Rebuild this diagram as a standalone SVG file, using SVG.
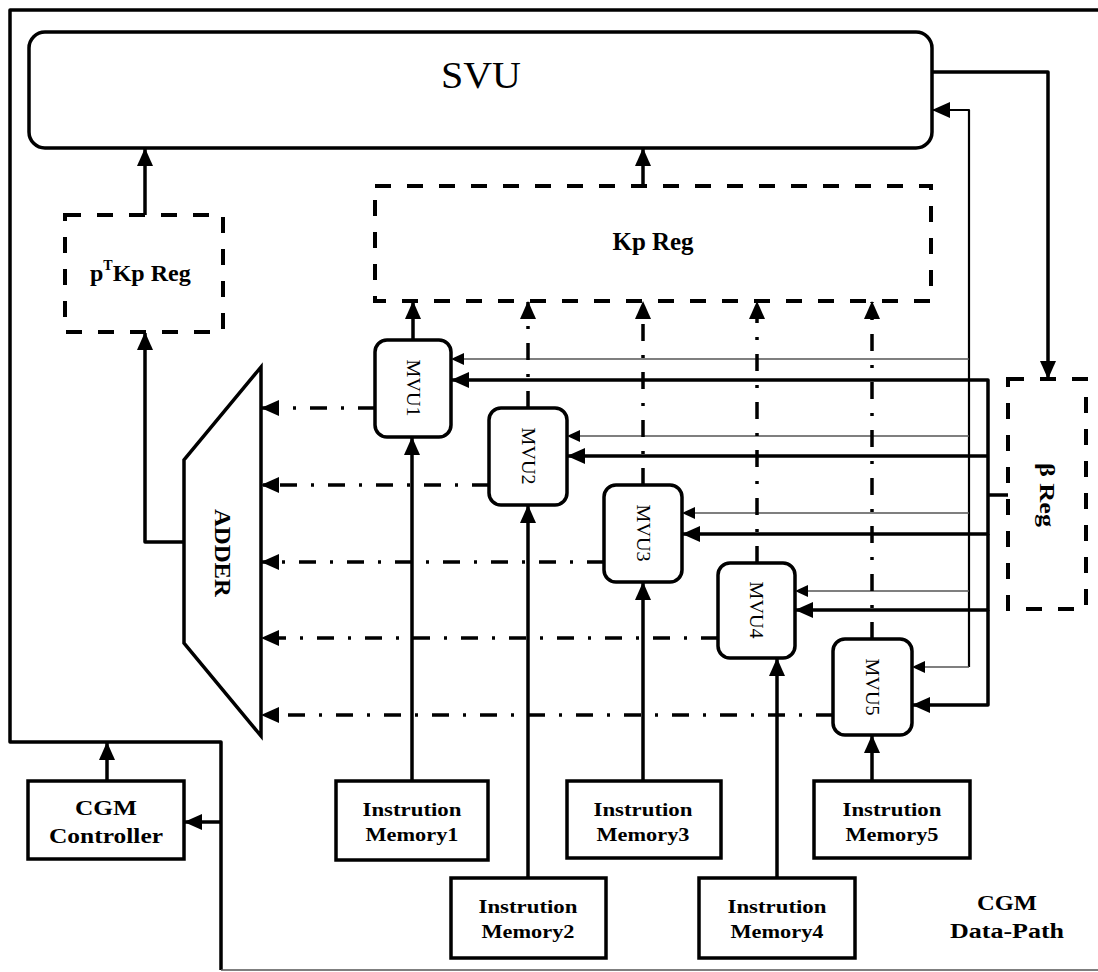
<svg xmlns="http://www.w3.org/2000/svg" width="1098" height="972" viewBox="0 0 1098 972">
<style>
.bx{fill:#fff;stroke:#000;stroke-width:3.5}
.dsh{fill:none;stroke:#000;stroke-width:4;stroke-dasharray:16 16}
.th{fill:none;stroke:#000;stroke-width:3.5;stroke-linejoin:round}
.md{fill:none;stroke:#000;stroke-width:2.2;stroke-linejoin:round}
.tn{fill:none;stroke:#555;stroke-width:1.6}
.dd{fill:none;stroke:#000;stroke-width:3.5;stroke-dasharray:17 14 3 14}
.serif{font-family:"Liberation Serif","Times New Roman",serif;fill:#000}
.b{font-weight:bold}
</style>
<defs>
<marker id="ah" markerUnits="userSpaceOnUse" markerWidth="18" markerHeight="16" refX="17" refY="8" orient="auto"><path d="M0,0 L18,8 L0,16 z" fill="#000"/></marker>
<marker id="ahs" markerUnits="userSpaceOnUse" markerWidth="13" markerHeight="12" refX="12" refY="6" orient="auto"><path d="M0,0 L13,6 L0,12 z" fill="#000"/></marker>
</defs>

<g id="frame">
<path class="th" d="M1098,10 H10 V742 H221 V970" stroke-width="3"/>
<path class="tn" d="M221,970 H1098" stroke="#000"/>
</g>

<g id="svu">
<rect class="bx" x="29" y="32" width="903" height="116" rx="16" stroke-width="3"/>
<text class="serif" x="481" y="88" font-size="38" text-anchor="middle" textLength="80" lengthAdjust="spacingAndGlyphs">SVU</text>
</g>

<g id="kpreg">
<rect class="dsh" x="375" y="186" width="556" height="115"/>
<text class="serif b" x="653" y="250" font-size="25" text-anchor="middle" textLength="81" lengthAdjust="spacingAndGlyphs">Kp Reg</text>
</g>

<g id="ptkpreg">
<rect class="dsh" x="65" y="215" width="158" height="117"/>
<text class="serif b" x="90" y="281" font-size="24">p<tspan dy="-11" font-size="14">T</tspan><tspan dy="11">Kp Reg</tspan></text>
</g>

<g id="breg">
<rect class="dsh" x="1008" y="379" width="78" height="230"/>
<text class="serif b" transform="translate(1047,495) rotate(90)" x="0" y="7" font-size="20" text-anchor="middle" textLength="64" lengthAdjust="spacingAndGlyphs">β Reg</text>
</g>

<g id="adder">
<polygon class="bx" points="261,367 261,736 184,643 184,460"/>
<text class="serif b" transform="translate(223,553) rotate(90)" x="0" y="8" font-size="24" text-anchor="middle" textLength="88" lengthAdjust="spacingAndGlyphs">ADDER</text>
</g>

<g id="mvu1">
<rect class="bx" x="375" y="340" width="76" height="97" rx="12"/>
<text class="serif" transform="translate(413,388) rotate(90)" x="0" y="6" font-size="18" text-anchor="middle" textLength="57" lengthAdjust="spacingAndGlyphs">MVU1</text>
</g>
<g id="mvu2">
<rect class="bx" x="489" y="408" width="78" height="97" rx="12"/>
<text class="serif" transform="translate(528,456) rotate(90)" x="0" y="6" font-size="18" text-anchor="middle" textLength="57" lengthAdjust="spacingAndGlyphs">MVU2</text>
</g>
<g id="mvu3">
<rect class="bx" x="604" y="485" width="78" height="97" rx="12"/>
<text class="serif" transform="translate(643,533) rotate(90)" x="0" y="6" font-size="18" text-anchor="middle" textLength="57" lengthAdjust="spacingAndGlyphs">MVU3</text>
</g>
<g id="mvu4">
<rect class="bx" x="718" y="563" width="77" height="95" rx="12"/>
<text class="serif" transform="translate(756,610) rotate(90)" x="0" y="6" font-size="18" text-anchor="middle" textLength="57" lengthAdjust="spacingAndGlyphs">MVU4</text>
</g>
<g id="mvu5">
<rect class="bx" x="833" y="639" width="79" height="96" rx="12"/>
<text class="serif" transform="translate(872,687) rotate(90)" x="0" y="6" font-size="18" text-anchor="middle" textLength="57" lengthAdjust="spacingAndGlyphs">MVU5</text>
</g>

<g id="cgmctrl">
<rect class="bx" x="28" y="781" width="156" height="78"/>
<text class="serif b" x="106" y="815" font-size="20" text-anchor="middle" textLength="62" lengthAdjust="spacingAndGlyphs">CGM</text>
<text class="serif b" x="106" y="843" font-size="20" text-anchor="middle" textLength="114" lengthAdjust="spacingAndGlyphs">Controller</text>
</g>

<g id="im1">
<rect class="bx" x="336" y="781" width="152" height="79"/>
<text class="serif b" x="412" y="816" font-size="19" text-anchor="middle" textLength="99" lengthAdjust="spacingAndGlyphs">Instrution</text>
<text class="serif b" x="412" y="841" font-size="19" text-anchor="middle" textLength="93" lengthAdjust="spacingAndGlyphs">Memory1</text>
</g>
<g id="im2">
<rect class="bx" x="451" y="878" width="155" height="80"/>
<text class="serif b" x="528" y="913" font-size="19" text-anchor="middle" textLength="99" lengthAdjust="spacingAndGlyphs">Instrution</text>
<text class="serif b" x="528" y="938" font-size="19" text-anchor="middle" textLength="93" lengthAdjust="spacingAndGlyphs">Memory2</text>
</g>
<g id="im3">
<rect class="bx" x="567" y="781" width="154" height="77"/>
<text class="serif b" x="643" y="816" font-size="19" text-anchor="middle" textLength="99" lengthAdjust="spacingAndGlyphs">Instrution</text>
<text class="serif b" x="643" y="841" font-size="19" text-anchor="middle" textLength="93" lengthAdjust="spacingAndGlyphs">Memory3</text>
</g>
<g id="im4">
<rect class="bx" x="699" y="878" width="156" height="80"/>
<text class="serif b" x="777" y="913" font-size="19" text-anchor="middle" textLength="99" lengthAdjust="spacingAndGlyphs">Instrution</text>
<text class="serif b" x="777" y="938" font-size="19" text-anchor="middle" textLength="93" lengthAdjust="spacingAndGlyphs">Memory4</text>
</g>
<g id="im5">
<rect class="bx" x="814" y="781" width="156" height="77"/>
<text class="serif b" x="892" y="816" font-size="19" text-anchor="middle" textLength="99" lengthAdjust="spacingAndGlyphs">Instrution</text>
<text class="serif b" x="892" y="841" font-size="19" text-anchor="middle" textLength="93" lengthAdjust="spacingAndGlyphs">Memory5</text>
</g>

<g id="datapath-label">
<text class="serif b" x="1007" y="910" font-size="20" text-anchor="middle" textLength="60" lengthAdjust="spacingAndGlyphs">CGM</text>
<text class="serif b" x="1007" y="938" font-size="20" text-anchor="middle" textLength="114" lengthAdjust="spacingAndGlyphs">Data-Path</text>
</g>

<g id="connectors">
<path class="th" d="M107,781 V743" marker-end="url(#ah)"/>
<path class="th" d="M221,822 H185" marker-end="url(#ah)"/>
<path class="th" d="M145,215 V149" marker-end="url(#ah)"/>
<path class="th" d="M643,186 V149" marker-end="url(#ah)"/>
<path class="th" d="M932,72 H1048 V378" marker-end="url(#ah)"/>
<path class="md" d="M969,667 V110 H933" marker-end="url(#ah)"/>
<path class="tn" d="M969,359 H452" marker-end="url(#ahs)"/>
<path class="tn" d="M969,436 H568" marker-end="url(#ahs)"/>
<path class="tn" d="M969,513 H683" marker-end="url(#ahs)"/>
<path class="tn" d="M969,591 H796" marker-end="url(#ahs)"/>
<path class="tn" d="M969,667 H913" marker-end="url(#ahs)"/>
<path class="th" d="M1008,495 H988"/>
<path class="th" d="M988,456 V380 H452" marker-end="url(#ah)"/>
<path class="th" d="M988,456 H568" marker-end="url(#ah)"/>
<path class="th" d="M988,456 V534 H683" marker-end="url(#ah)"/>
<path class="th" d="M988,534 V610 H796" marker-end="url(#ah)"/>
<path class="th" d="M988,610 V705 H913" marker-end="url(#ah)"/>
<path class="dd" d="M375,408 H262" marker-end="url(#ah)"/>
<path class="dd" d="M489,485 H262" marker-end="url(#ah)"/>
<path class="dd" d="M604,562 H262" marker-end="url(#ah)"/>
<path class="dd" d="M718,638 H262" marker-end="url(#ah)"/>
<path class="dd" d="M833,715 H262" marker-end="url(#ah)"/>
<path class="th" d="M413,340 V302" marker-end="url(#ah)"/>
<path class="dd" d="M528,408 V302" marker-end="url(#ah)"/>
<path class="dd" d="M643,485 V302" marker-end="url(#ah)"/>
<path class="dd" d="M757,563 V302" marker-end="url(#ah)"/>
<path class="dd" d="M872,639 V302" marker-end="url(#ah)"/>
<path class="th" d="M412,781 V438" marker-end="url(#ah)"/>
<path class="th" d="M528,878 V506" marker-end="url(#ah)"/>
<path class="th" d="M643,781 V583" marker-end="url(#ah)"/>
<path class="th" d="M777,878 V659" marker-end="url(#ah)"/>
<path class="th" d="M872,781 V736" marker-end="url(#ah)"/>
<path class="th" d="M184,542 H145 V333" marker-end="url(#ah)"/>
</g>
</svg>
